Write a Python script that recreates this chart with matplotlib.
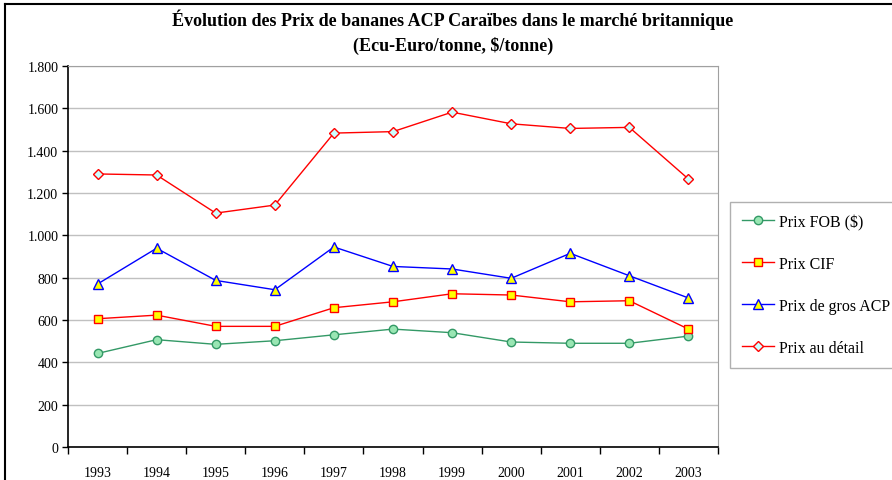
import matplotlib
matplotlib.use("Agg")
import matplotlib.pyplot as plt
from matplotlib.lines import Line2D
from matplotlib.ticker import FuncFormatter, FixedLocator
import numpy as np

plt.rcParams['font.family'] = ['Liberation Serif', 'DejaVu Serif']

years = ["1993", "1994", "1995", "1996", "1997", "1998", "1999", "2000", "2001", "2002", "2003"]
prix_fob = [442, 507, 485, 502, 530, 557, 540, 496, 490, 490, 524]
prix_cif = [606, 623, 570, 570, 658, 686, 724, 718, 686, 691, 557]
prix_gros = [770, 939, 787, 743, 945, 853, 841, 797, 915, 809, 704]
prix_detail = [1290, 1285, 1105, 1143, 1483, 1490, 1582, 1527, 1505, 1510, 1266]

fig = plt.figure(figsize=(8.92, 4.81), dpi=100)
ax = fig.add_axes([68 / 892, 1 - 448 / 481, 650 / 892, 381 / 481])

x = np.arange(len(years))
ax.plot(x, prix_fob, color="#339966", lw=1, marker="o", ms=6,
        mfc="#99e6b3", mec="#339966", mew=1, label="Prix FOB ($)")
ax.plot(x, prix_cif, color="#ff0000", lw=1, marker="s", ms=6,
        mfc="#ffff00", mec="#ff0000", mew=1, label="Prix CIF")
ax.plot(x, prix_gros, color="#0000ff", lw=1, marker="^", ms=7,
        mfc="#ffff00", mec="#0000ff", mew=1, label="Prix de gros ACP")
ax.plot(x, prix_detail, color="#ff0000", lw=1, marker="D", ms=5,
        mfc="#ccffff", mec="#ff0000", mew=1, label="Prix au détail")

ax.set_xlim(-0.5, len(years) - 0.5)
ax.set_ylim(0, 1800)
ax.set_yticks(np.arange(0, 1801, 200))
ax.yaxis.set_major_formatter(FuncFormatter(lambda v, p: f"{int(v):,}".replace(",", ".")))
ax.yaxis.grid(True, color="#c0c0c0", lw=1)
ax.set_axisbelow(True)

ax.set_xticks(x)
ax.set_xticklabels(years)
ax.tick_params(axis="x", which="major", length=0, pad=14, labelsize=10)
ax.xaxis.set_minor_locator(FixedLocator(np.arange(-0.5, len(years), 1)))
ax.tick_params(axis="x", which="minor", length=5, direction="out", width=1)
ax.tick_params(axis="y", length=4, direction="out", width=1, labelsize=10, pad=3)

for side in ["top", "right"]:
    ax.spines[side].set_color("#a0a0a0")
for side in ["left", "bottom"]:
    ax.spines[side].set_color("black")
    ax.spines[side].set_linewidth(1.2)

fig.text(453 / 892, 1 - 20 / 481, "Évolution des Prix de bananes ACP Caraïbes dans le marché britannique",
         ha="center", va="center", fontsize=13, fontweight="bold")
fig.text(453 / 892, 1 - 46 / 481, "(Ecu-Euro/tonne, $/tonne)",
         ha="center", va="center", fontsize=13, fontweight="bold")

leg = fig.legend(loc="upper left", bbox_to_anchor=(722 / 892, 1 - 195 / 481),
                 fontsize=11.5, frameon=True, fancybox=False, framealpha=1,
                 edgecolor="#b0b0b0", labelspacing=1.62, handlelength=2.0,
                 handletextpad=0.3, borderpad=0.75)
leg.get_frame().set_linewidth(1)

# figure border (top and left visible)
fig.add_artist(Line2D([5 / 892, 1], [1 - 5 / 481, 1 - 5 / 481], color="black", lw=1.5,
                      transform=fig.transFigure))
fig.add_artist(Line2D([5 / 892, 5 / 892], [0, 1 - 5 / 481], color="black", lw=1.5,
                      transform=fig.transFigure))

fig.savefig("out.png", dpi=100)
